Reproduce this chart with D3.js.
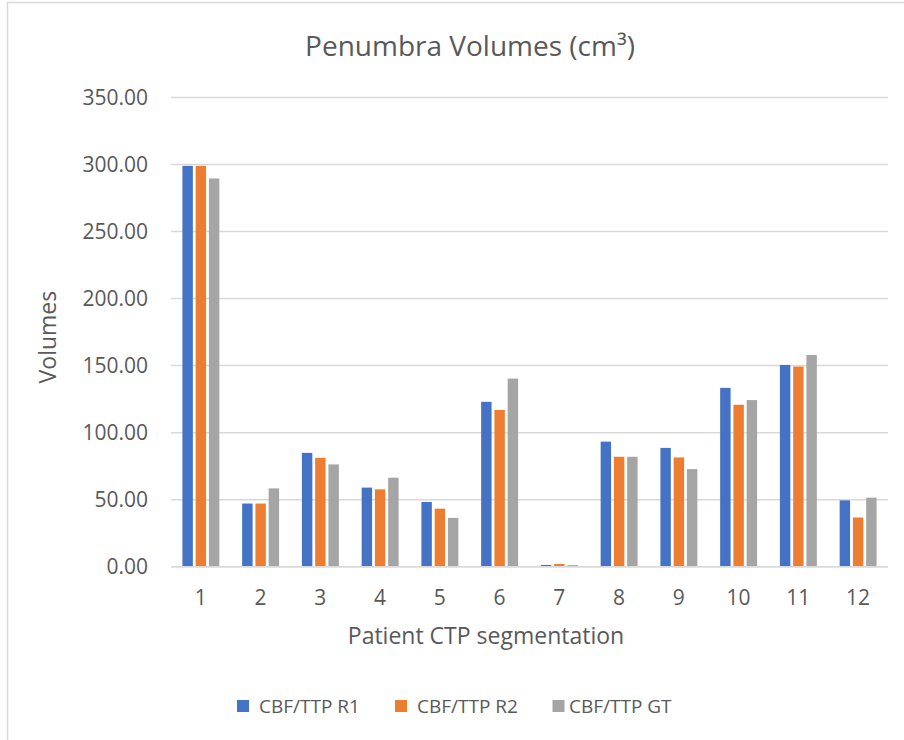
<!DOCTYPE html>
<html>
<head>
<meta charset="utf-8">
<script src="https://cdn.jsdelivr.net/npm/d3@7"></script>
<style>
  html, body { margin: 0; padding: 0; background: #fff; }
  text { font-family: "Open Sans", sans-serif; fill: #595959; }
</style>
</head>
<body>
<div id="chart-ctn"></div>
<script>
// Chart data
let patients = ["1", "2", "3", "4", "5", "6", "7", "8", "9", "10", "11", "12"];
let seriesNames = ["CBF/TTP R1", "CBF/TTP R2", "CBF/TTP GT"];
let r1Values = [299.0, 47.1, 84.9, 59.0, 48.3, 123.0, 1.3, 93.3, 88.6, 133.4, 150.5, 49.5];
let r2Values = [299.0, 47.1, 81.2, 57.7, 43.3, 116.9, 2.0, 82.0, 81.5, 120.8, 149.3, 36.7];
let gtValues = [289.6, 58.4, 76.3, 66.4, 36.4, 140.3, 1.2, 82.0, 72.8, 124.3, 157.9, 51.5];
let yTicks = [0, 50, 100, 150, 200, 250, 300, 350];
let seriesColors = ["#4472C4", "#ED7D31", "#A5A5A5"];

let width = 904;
let height = 740;

// plot area
let plotLeft = 171;
let plotRight = 888;
let plotTop = 97.5;
let plotBottom = 566.7;

let svg = d3.select("#chart-ctn")
    .append("svg")
    .attr("width", width)
    .attr("height", height);

// chart frame (only left and top edges are visible in the picture)
svg.append("rect")
    .attr("x", 7.5)
    .attr("y", 2.5)
    .attr("width", width + 10)
    .attr("height", height + 10)
    .attr("fill", "none")
    .attr("stroke", "#d9d9d9")
    .attr("stroke-width", 1.5);

let x0 = d3.scaleBand()
    .domain(patients)
    .range([plotLeft, plotRight])
    .padding(0);

let x1 = d3.scaleBand()
    .domain(seriesNames)
    .range([0, x0.bandwidth()])
    .paddingInner(0.213)
    .paddingOuter(0.86);

let y = d3.scaleLinear()
    .domain([0, 350])
    .range([plotBottom, plotTop]);

// gridlines
svg.append("g")
    .selectAll("line")
    .data(yTicks)
    .join("line")
    .attr("x1", plotLeft)
    .attr("x2", plotRight)
    .attr("y1", (d) => y(d))
    .attr("y2", (d) => y(d))
    .attr("stroke", "#d9d9d9")
    .attr("stroke-width", 1.5);

// y tick labels
svg.append("g")
    .selectAll("text")
    .data(yTicks)
    .join("text")
    .attr("x", 148)
    .attr("y", (d) => y(d))
    .attr("dy", "0.36em")
    .attr("text-anchor", "end")
    .style("font-size", "21px")
    .text((d) => d3.format(".2f")(d));

// bars
let rows = patients.map((p, i) => ({
    patient: p,
    values: [r1Values[i], r2Values[i], gtValues[i]]
}));

let groups = svg.append("g")
    .selectAll("g")
    .data(rows)
    .join("g")
    .attr("transform", (d) => `translate(${x0(d.patient)},0)`);

groups.selectAll("rect")
    .data((d) => d.values.map((v, j) => ({ name: seriesNames[j], value: v, color: seriesColors[j] })))
    .join("rect")
    .attr("x", (d) => x1(d.name))
    .attr("width", x1.bandwidth())
    .attr("y", (d) => y(d.value))
    .attr("height", (d) => y(0) - y(d.value))
    .attr("fill", (d) => d.color);

// x axis baseline over the bars
svg.append("line")
    .attr("x1", plotLeft)
    .attr("x2", plotRight)
    .attr("y1", y(0))
    .attr("y2", y(0))
    .attr("stroke", "#d9d9d9")
    .attr("stroke-width", 1.5);

// x tick labels
svg.append("g")
    .selectAll("text")
    .data(patients)
    .join("text")
    .attr("x", (d) => x0(d) + x0.bandwidth() / 2)
    .attr("y", 605)
    .attr("text-anchor", "middle")
    .style("font-size", "21px")
    .text((d) => d);

// title
svg.append("text")
    .attr("x", 470)
    .attr("y", 56)
    .attr("text-anchor", "middle")
    .style("font-size", "28px")
    .text("Penumbra Volumes (cm³)");

// axis titles
svg.append("text")
    .attr("x", 486)
    .attr("y", 644)
    .attr("text-anchor", "middle")
    .style("font-size", "23px")
    .text("Patient CTP segmentation");

svg.append("text")
    .attr("transform", `translate(56, ${(plotTop + plotBottom) / 2 + 5}) rotate(-90)`)
    .attr("text-anchor", "middle")
    .style("font-size", "23px")
    .text("Volumes");

// legend
let legendX = [237, 395, 552.5];
let legend = svg.append("g")
    .selectAll("g")
    .data(seriesNames)
    .join("g")
    .attr("transform", (d, i) => `translate(${legendX[i]}, 700)`);

legend.append("rect")
    .attr("width", 12)
    .attr("height", 12)
    .attr("fill", (d, i) => seriesColors[i]);

legend.append("text")
    .attr("x", (d, i) => (i === 2 ? 16.5 : 22))
    .attr("y", 6)
    .attr("dy", "0.36em")
    .style("font-size", "19px")
    .text((d) => d);
</script>
</body>
</html>
